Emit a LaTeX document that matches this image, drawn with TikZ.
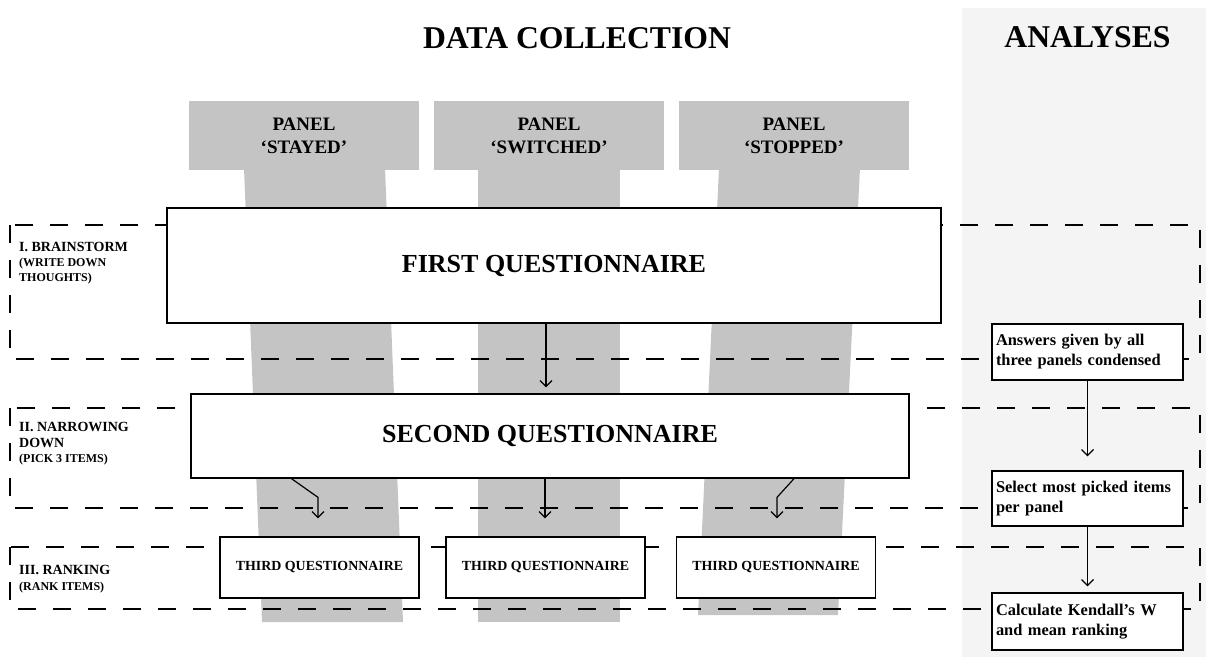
\documentclass[tikz,border=0pt]{standalone}
\usepackage{fontspec}
\setmainfont{Liberation Serif}
\usetikzlibrary{arrows.meta}
\definecolor{panelgray}{HTML}{C4C4C4}
\definecolor{bandgray}{HTML}{F4F4F4}
\begin{document}
\begin{tikzpicture}[x=1pt,y=-1pt,
  panel/.style={fill=panelgray, minimum width=230pt, minimum height=69pt, inner sep=0pt, align=center, font=\bfseries\fontsize{19}{23}\selectfont},
  qbox/.style={draw=black, fill=white, line width=1.3pt, inner sep=0pt},
  abox/.style={draw=black, fill=white, line width=1.3pt, minimum width=191pt, inner sep=0pt, text width=183pt, align=left, font=\bfseries\fontsize{16.4}{20}\selectfont},
  band/.style={line width=1.4pt, dash pattern=on 18pt off 17pt},
  arr/.style={line width=1.2pt, -{Straight Barb[length=6pt,width=12pt]}},
  title/.style={anchor=base, inner sep=0pt, font=\bfseries\fontsize{31.7}{36}\selectfont},
  labbig/.style={anchor=base west, inner sep=0pt, font=\bfseries\fontsize{14}{16}\selectfont},
  labsmall/.style={anchor=base west, inner sep=0pt, font=\bfseries\fontsize{12}{14}\selectfont}
]
\useasboundingbox (0,0) rectangle (1206,657);
% analyses background
\fill[bandgray] (962,8) rectangle (1206,657);
% panel stems
\fill[panelgray] (244,168) -- (385,168) -- (403,622) -- (262,622) -- cycle;
\fill[panelgray] (478,168) -- (620,168) -- (620,622) -- (478,622) -- cycle;
\fill[panelgray] (719,168) -- (860,168) -- (838,615) -- (698,615) -- cycle;
% panels
\node[panel] (p1) at (304,135.5) {PANEL\\‘STAYED’};
\node[panel] (p2) at (549,135.5) {PANEL\\‘SWITCHED’};
\node[panel] (p3) at (794,135.5) {PANEL\\‘STOPPED’};
% dashed bands
\draw[band] (10,225) rectangle (1200,359);
\draw[band] (10,408) rectangle (1200,508);
\draw[band] (10,547) rectangle (1200,609);
% titles
\node[title] (tdc) at (577,48) {DATA COLLECTION};
\node[title] (tan) at (1087.5,47) {ANALYSES};
% questionnaires
\node[qbox, minimum width=774pt, minimum height=115pt, font=\bfseries\fontsize{26}{30}\selectfont] (fq) at (554,265.5) {FIRST QUESTIONNAIRE};
\node[qbox, minimum width=718pt, minimum height=84pt, font=\bfseries\fontsize{26}{30}\selectfont] (sq) at (550,436) {SECOND QUESTIONNAIRE};
\node[qbox, minimum width=199pt, minimum height=61pt, font=\bfseries\fontsize{13.9}{16}\selectfont] (t1) at (319.5,567.5) {THIRD QUESTIONNAIRE};
\node[qbox, minimum width=199pt, minimum height=61pt, font=\bfseries\fontsize{13.9}{16}\selectfont] (t2) at (545.5,567.5) {THIRD QUESTIONNAIRE};
\node[qbox, minimum width=199pt, minimum height=61pt, font=\bfseries\fontsize{13.9}{16}\selectfont] (t3) at (776,567.5) {THIRD QUESTIONNAIRE};
% analyses boxes
\node[abox, minimum height=56pt] (a1) at (1087.5,352) {Answers given by all\\three panels condensed};
\node[abox, minimum height=55pt] (a2) at (1087.5,498.5) {Select most picked items\\per panel};
\node[abox, minimum height=57pt] (a3) at (1087.5,621.5) {Calculate Kendall’s W\\and mean ranking};
% arrows
\draw[arr] ([xshift=-8pt]fq.south) -- ([xshift=-4pt,yshift=6pt]sq.north);
\draw[arr] ([xshift=-258.5pt]sq.south) -- ([xshift=-1.5pt,yshift=39pt]t1.north) -- ([xshift=-1.5pt,yshift=18pt]t1.north);
\draw[arr] ([xshift=-5pt]sq.south) -- ([xshift=-0.5pt,yshift=18pt]t2.north);
\draw[arr] ([xshift=244pt]sq.south) -- ([xshift=1pt,yshift=39pt]t3.north) -- ([xshift=1pt,yshift=18pt]t3.north);
\draw[arr] (a1.south) -- ([yshift=14pt]a2.north);
\draw[arr] (a2.south) -- ([yshift=6pt]a3.north);
% stage labels
\node[labbig] (l1a) at (19,251) {I. BRAINSTORM};
\node[labsmall] (l1b) at (19,266) {(WRITE DOWN};
\node[labsmall] (l1c) at (19,281) {THOUGHTS)};
\node[labbig] (l2a) at (19,431) {II. NARROWING};
\node[labbig] (l2b) at (19,447) {DOWN};
\node[labsmall] (l2c) at (19,462) {(PICK 3 ITEMS)};
\node[labbig] (l3a) at (19,574) {III. RANKING};
\node[labsmall] (l3b) at (19,590) {(RANK ITEMS)};
\end{tikzpicture}
\end{document}
